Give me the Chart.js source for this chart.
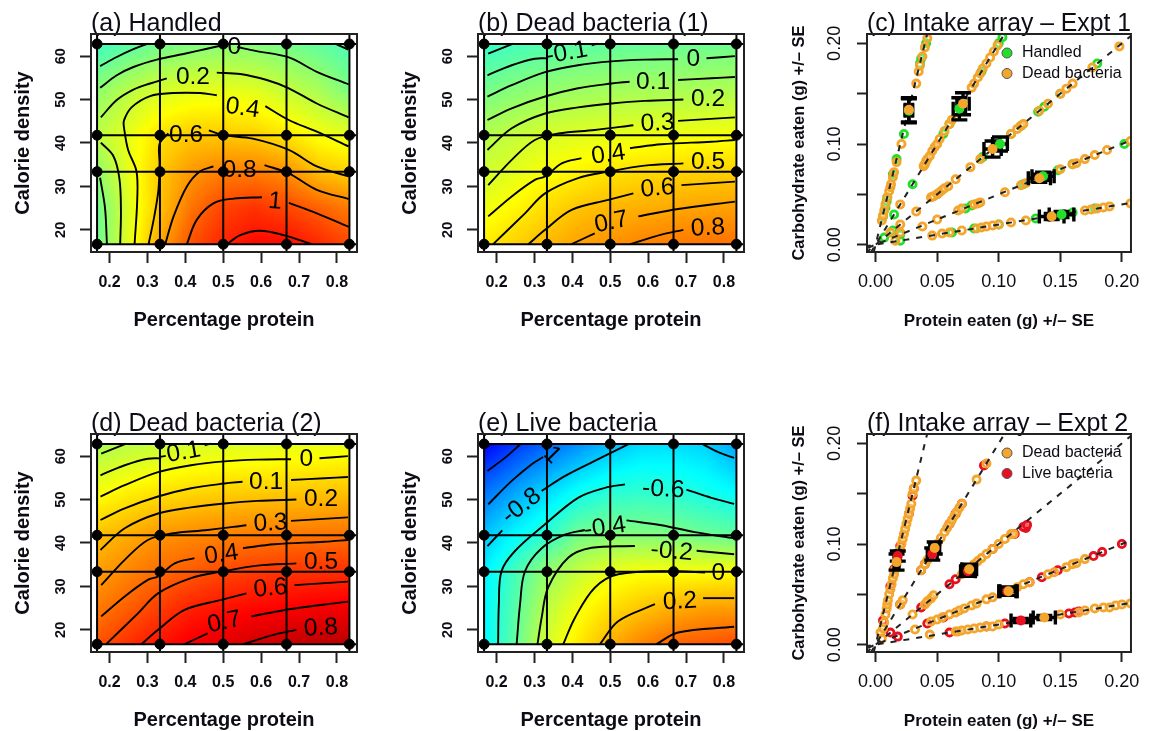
<!DOCTYPE html>
<html>
<head>
<meta charset="utf-8">
<script src="https://cdn.jsdelivr.net/npm/chart.js@4/dist/chart.umd.min.js"></script>
<style>
html, body { margin: 0; background: #fff; }
canvas { position: absolute; filter: blur(0.65px); }
</style>
</head>
<body>
<canvas id="pa" width="373" height="331" style="left:0;top:0"></canvas>
<canvas id="pb" width="373" height="331" style="left:387px;top:0"></canvas>
<canvas id="pc" width="373" height="331" style="left:776px;top:0"></canvas>
<canvas id="pd" width="373" height="331" style="left:0;top:400px"></canvas>
<canvas id="pe" width="373" height="331" style="left:387px;top:400px"></canvas>
<canvas id="pf" width="373" height="331" style="left:776px;top:400px"></canvas>
<script>
// heat map grid
var gridX = [0.167, 0.25, 0.333, 0.417, 0.5, 0.583, 0.667, 0.75, 0.833];
var gridY = [16.7, 25, 33.4, 41.7, 52, 62.7];

var handledZ = [
  [-0.1, 0.32, 0.72, 1.03, 1.18, 1.28, 1.27, 1.17, 1.05],
  [-0.1, 0.29, 0.62, 0.9, 1.07, 1.13, 1.06, 0.97, 0.87],
  [0.02, 0.33, 0.6, 0.77, 0.86, 0.86, 0.8, 0.63, 0.57],
  [0.18, 0.33, 0.52, 0.6, 0.6, 0.58, 0.5, 0.385, 0.325],
  [0.02, 0.17, 0.27, 0.32, 0.33, 0.31, 0.21, 0.12, -0.04],
  [-0.27, -0.17, -0.08, -0.04, 0, -0.02, -0.07, -0.14, -0.22]
];
// panels b and d show the same surface with a different colour stretch
var deadZ = [
  [0.47, 0.57, 0.65, 0.72, 0.77, 0.82, 0.85, 0.87, 0.88],
  [0.36, 0.44, 0.53, 0.61, 0.65, 0.68, 0.7, 0.72, 0.73],
  [0.26, 0.33, 0.4, 0.45, 0.5, 0.53, 0.55, 0.56, 0.57],
  [0.17, 0.23, 0.29, 0.32, 0.34, 0.36, 0.37, 0.38, 0.39],
  [-0.03, 0.03, 0.07, 0.1, 0.12, 0.13, 0.14, 0.15, 0.16],
  [-0.24, -0.19, -0.15, -0.12, -0.1, -0.09, -0.07, -0.06, -0.05]
];
var liveZ = [
  [-0.7, -0.41, -0.1, 0.07, 0.23, 0.35, 0.44, 0.47, 0.5],
  [-0.7, -0.44, -0.17, -0.01, 0.1, 0.17, 0.23, 0.27, 0.28],
  [-0.72, -0.49, -0.27, -0.14, -0.04, 0, 0, 0, 0.02],
  [-0.84, -0.68, -0.55, -0.36, -0.32, -0.32, -0.33, -0.38, -0.41],
  [-1.07, -0.93, -0.79, -0.66, -0.58, -0.56, -0.58, -0.63, -0.69],
  [-1.38, -1.22, -1.1, -0.98, -0.86, -0.78, -0.77, -0.8, -0.93]
];

// contour lines, broken where a label sits
var handledContours = [
  [[0.175, 57.7], [0.219, 59.8], [0.263, 61.6], [0.302, 62.9]],
  [[0.175, 52.7], [0.219, 55.6], [0.263, 57.5], [0.325, 59.2], [0.395, 60.5], [0.457, 61.7], [0.498, 62.5]],
  [[0.537, 62.1], [0.585, 61.2], [0.673, 59.7], [0.747, 56.4], [0.831, 53.5]],
  [[0.795, 62.9], [0.83, 61.5]],
  [[0.177, 45.9], [0.219, 49.9], [0.263, 52.3], [0.307, 53.7], [0.351, 54.9]],
  [[0.483, 56.2], [0.545, 55.9], [0.615, 54.5], [0.673, 52.6], [0.747, 49.1], [0.831, 45.9]],
  [[0.266, 16.7], [0.273, 26.9], [0.271, 33.5], [0.249, 38.4], [0.238, 43.6], [0.238, 45.2], [0.258, 48.2], [0.307, 50.8], [0.368, 51.5], [0.439, 51.5], [0.483, 51]],
  [[0.611, 48.5], [0.673, 45.3], [0.747, 42.6], [0.831, 39.2]],
  [[0.193, 16.7], [0.188, 25], [0.175, 32]],
  [[0.228, 16.7], [0.23, 24.4], [0.226, 31.8], [0.21, 37], [0.177, 40.1]],
  [[0.303, 16.7], [0.318, 23.1], [0.329, 29.2], [0.332, 35.2], [0.332, 39.8], [0.355, 42.2]],
  [[0.462, 42.9], [0.5, 41.8], [0.578, 41], [0.673, 38.4], [0.747, 34.6], [0.831, 32.3]],
  [[0.347, 16.7], [0.369, 23.1], [0.404, 30], [0.439, 33.5], [0.474, 34.6]],
  [[0.609, 34.9], [0.673, 33], [0.747, 29.2], [0.831, 27.1]],
  [[0.404, 16.7], [0.43, 22.3], [0.474, 26.1], [0.527, 27.2], [0.602, 27.5]],
  [[0.673, 26.2], [0.747, 23.8], [0.831, 20.7]],
  [[0.51, 16.7], [0.545, 18.8], [0.597, 19.8], [0.659, 18.8], [0.734, 16.7]]
];
var deadContours = [
  [[0.178, 60.6], [0.244, 62.9]],
  [[0.176, 55.6], [0.24, 57.9], [0.301, 59.4], [0.336, 59.5]],
  [[0.451, 62.5], [0.468, 62.9]],
  [[0.176, 50.7], [0.24, 53.3], [0.328, 56.3], [0.415, 57.9], [0.503, 58.8], [0.591, 59.2], [0.679, 59.3]],
  [[0.754, 59.5], [0.829, 60]],
  [[0.176, 45.3], [0.24, 48], [0.328, 50.7], [0.415, 52.6], [0.503, 53.7], [0.551, 54.1]],
  [[0.679, 54.5], [0.767, 54.9], [0.829, 55.2]],
  [[0.176, 38.4], [0.24, 43.4], [0.328, 46.8], [0.415, 48.2], [0.503, 49.1], [0.591, 49.7], [0.693, 50]],
  [[0.178, 30.3], [0.24, 36.1], [0.301, 40.7], [0.363, 42.2], [0.459, 43], [0.561, 44.1]],
  [[0.679, 45.1], [0.829, 45.9]],
  [[0.178, 23.1], [0.24, 27.7], [0.301, 31.5], [0.328, 32.3], [0.372, 35.3], [0.424, 36.5]],
  [[0.552, 38.8], [0.635, 39.7], [0.767, 40.3], [0.829, 40.7]],
  [[0.191, 16.7], [0.275, 23.8], [0.328, 28.4], [0.415, 31.9], [0.495, 33.4], [0.591, 34.8], [0.693, 35.3]],
  [[0.284, 16.7], [0.328, 20], [0.398, 24.6], [0.495, 26.9], [0.561, 28.4]],
  [[0.688, 30.3], [0.829, 31.1]],
  [[0.398, 16.7], [0.459, 19.2]],
  [[0.574, 23.1], [0.679, 24.8], [0.829, 26.5]],
  [[0.552, 16.7], [0.635, 18.9], [0.693, 20]]
];
var liveContours = [
  [[0.176, 56.6], [0.222, 59.6], [0.262, 62.7]],
  [[0.178, 48.9], [0.24, 54.3], [0.292, 58.1], [0.323, 59.8]],
  [[0.176, 39.3], [0.215, 42.9]],
  [[0.319, 52], [0.38, 55.4], [0.459, 58.9], [0.547, 62.7]],
  [[0.745, 62.7], [0.785, 60.9], [0.827, 59.6]],
  [[0.204, 16.7], [0.206, 25.8], [0.213, 33.5], [0.248, 38.1], [0.328, 44.3], [0.415, 50.4], [0.486, 52.7], [0.539, 53.5]],
  [[0.701, 52.3], [0.767, 50.4], [0.827, 49]],
  [[0.253, 16.7], [0.262, 25.9], [0.275, 33.5], [0.319, 38.8], [0.38, 41.9], [0.433, 43]],
  [[0.543, 45.2], [0.635, 44.1], [0.723, 42.5], [0.827, 41.1]],
  [[0.308, 16.7], [0.319, 22.8], [0.336, 29.7], [0.389, 36.6], [0.451, 38.9], [0.565, 39.3]],
  [[0.728, 38.2], [0.827, 37.4]],
  [[0.376, 16.7], [0.407, 22.8], [0.459, 29.7], [0.521, 32.8], [0.671, 33.5], [0.75, 33.2]],
  [[0.473, 16.7], [0.521, 22], [0.618, 25.9]],
  [[0.745, 27.3], [0.827, 27.3]],
  [[0.622, 16.7], [0.679, 19.4], [0.827, 20.7]]
];

// [text, x, y, rotation in degrees]
var handledLabels = [["0", 0.529, 62.1, 0], ["0.2", 0.42, 55.1, 0], ["0.4", 0.551, 48, 8], ["0.6", 0.402, 41.8, 0],
  ["0.8", 0.543, 33.8, 0], ["1", 0.637, 26.5, 5]];
var deadLabels = [["-0.1", 0.385, 60.7, -10], ["0", 0.719, 59.3, 0], ["0.1", 0.613, 54, 0], ["0.2", 0.758, 50, 0],
  ["0.3", 0.625, 44.5, -3], ["0.4", 0.495, 37.3, -8], ["0.5", 0.758, 35.6, 0], ["0.6", 0.625, 29.5, -5],
  ["0.7", 0.503, 21.7, -12], ["0.8", 0.758, 20.4, -3]];
var liveLabels = [["-1", 0.339, 60.9, 45], ["-0.8", 0.266, 48.5, -38], ["-0.6", 0.64, 52.3, 3], ["-0.4", 0.486, 43.5, -8],
  ["-0.2", 0.662, 38, 5], ["0", 0.785, 33, 0], ["0.2", 0.684, 26.5, -3]];

// the diet design: black dots and the lines through them
var designX = [0.167, 0.333, 0.5, 0.667, 0.833];
var designY = [16.7, 33.4, 41.8, 62.8];

var percentTicks = [0.2, 0.3, 0.4, 0.5, 0.6, 0.7, 0.8];
var calorieTicks = [20, 30, 40, 50, 60];
var intakeTicks = [0, 0.05, 0.1, 0.15, 0.2];

// intake rails, protein : carbohydrate 1:5, 1:2, 1:1, 2:1, 5:1
var rails = [
  [[-0.0015, -0.0075], [0.05, 0.25]],
  [[-0.004, -0.008], [0.125, 0.25]],
  [[-0.008, -0.008], [0.25, 0.25]],
  [[-0.016, -0.008], [0.25, 0.125]],
  [[-0.04, -0.008], [0.25, 0.05]]
];

// individual animals, expt 1
var handledRings1 = [
  [0.006, 0.028], [0.008, 0.037], [0.009, 0.043], [0.0095, 0.047], [0.014, 0.07], [0.017, 0.085], [0.023, 0.11], [0.036, 0.18], [0.037, 0.185], [0.041, 0.2],
  [0.015, 0.03], [0.03, 0.06], [0.055, 0.11], [0.06, 0.12], [0.066, 0.132], [0.086, 0.172], [0.1, 0.2], [0.103, 0.206],
  [0.007, 0.007], [0.014, 0.014], [0.05, 0.05], [0.087, 0.087], [0.11, 0.11], [0.118, 0.118], [0.132, 0.132], [0.137, 0.137], [0.15, 0.15], [0.18, 0.18],
  [0.02, 0.01], [0.073, 0.036], [0.078, 0.039], [0.12, 0.06], [0.148, 0.074], [0.16, 0.08], [0.202, 0.1],
  [0.02, 0.004], [0.062, 0.012], [0.08, 0.016], [0.1, 0.02], [0.13, 0.026], [0.16, 0.032], [0.178, 0.036]
];
var deadRings1 = [
  [0.005, 0.024], [0.006, 0.029], [0.007, 0.034], [0.008, 0.04], [0.0095, 0.047], [0.011, 0.053], [0.012, 0.057], [0.0125, 0.06], [0.014, 0.067], [0.015, 0.072], [0.017, 0.082], [0.021, 0.1], [0.033, 0.16], [0.035, 0.172], [0.036, 0.178], [0.038, 0.187], [0.04, 0.196], [0.042, 0.205],
  [0.02, 0.04], [0.039, 0.078], [0.04, 0.08], [0.041, 0.083], [0.042, 0.085], [0.044, 0.088], [0.046, 0.093], [0.048, 0.097], [0.05, 0.1], [0.052, 0.105], [0.056, 0.113], [0.06, 0.12], [0.062, 0.124], [0.078, 0.156], [0.08, 0.16], [0.083, 0.166], [0.085, 0.17], [0.087, 0.175], [0.09, 0.18], [0.093, 0.186], [0.096, 0.192], [0.099, 0.198],
  [0.012, 0.012], [0.02, 0.02], [0.033, 0.033], [0.045, 0.047], [0.047, 0.048], [0.05, 0.05], [0.052, 0.052], [0.054, 0.054], [0.056, 0.056], [0.059, 0.058], [0.065, 0.065], [0.077, 0.077], [0.085, 0.085], [0.11, 0.11], [0.115, 0.115], [0.118, 0.118], [0.12, 0.12], [0.133, 0.133], [0.14, 0.14], [0.15, 0.15], [0.155, 0.155], [0.16, 0.16], [0.176, 0.176], [0.198, 0.197],
  [0.02, 0.012], [0.038, 0.018], [0.05, 0.025], [0.067, 0.034], [0.07, 0.036], [0.08, 0.04], [0.083, 0.041], [0.085, 0.042], [0.105, 0.052], [0.118, 0.059], [0.122, 0.061], [0.15, 0.075], [0.16, 0.08], [0.163, 0.081], [0.17, 0.085], [0.178, 0.089], [0.188, 0.094], [0.207, 0.103],
  [0.016, 0.004], [0.046, 0.009], [0.054, 0.011], [0.06, 0.012], [0.07, 0.014], [0.082, 0.016], [0.086, 0.017], [0.09, 0.018], [0.095, 0.019], [0.1, 0.02], [0.11, 0.022], [0.122, 0.024], [0.17, 0.034], [0.175, 0.035], [0.18, 0.036], [0.185, 0.037], [0.19, 0.038], [0.207, 0.041]
];
// individual animals, expt 2
var deadRings2 = [
  [0.004, 0.012], [0.006, 0.016], [0.007, 0.022], [0.008, 0.03], [0.009, 0.036], [0.0095, 0.04], [0.01, 0.044], [0.011, 0.05], [0.012, 0.055], [0.013, 0.06], [0.014, 0.066], [0.015, 0.07], [0.016, 0.075], [0.017, 0.08], [0.02, 0.095], [0.021, 0.1], [0.022, 0.105], [0.023, 0.11], [0.024, 0.115], [0.025, 0.12], [0.026, 0.125], [0.027, 0.13], [0.028, 0.135], [0.029, 0.14], [0.03, 0.15], [0.031, 0.155], [0.033, 0.163],
  [0.02, 0.04], [0.022, 0.044], [0.037, 0.074], [0.04, 0.08], [0.042, 0.084], [0.05, 0.1], [0.053, 0.106], [0.056, 0.112], [0.058, 0.116], [0.06, 0.12], [0.062, 0.124], [0.064, 0.128], [0.066, 0.132], [0.068, 0.136], [0.07, 0.14], [0.082, 0.164], [0.09, 0.18],
  [0.005, 0.006], [0.03, 0.03], [0.04, 0.04], [0.042, 0.043], [0.045, 0.046], [0.047, 0.049], [0.07, 0.07], [0.072, 0.072], [0.08, 0.08], [0.083, 0.083], [0.086, 0.086], [0.09, 0.09], [0.095, 0.095], [0.1, 0.1], [0.105, 0.105], [0.11, 0.11], [0.112, 0.11],
  [0.032, 0.015], [0.045, 0.023], [0.05, 0.025], [0.054, 0.027], [0.06, 0.03], [0.065, 0.032], [0.068, 0.034], [0.072, 0.036], [0.078, 0.039], [0.082, 0.041], [0.09, 0.045], [0.095, 0.047], [0.105, 0.052], [0.115, 0.057], [0.12, 0.06], [0.125, 0.062], [0.14, 0.07], [0.145, 0.072], [0.155, 0.077], [0.16, 0.08], [0.163, 0.081], [0.17, 0.085],
  [0.044, 0.01], [0.065, 0.013], [0.067, 0.013], [0.07, 0.014], [0.075, 0.015], [0.08, 0.016], [0.085, 0.017], [0.09, 0.018], [0.095, 0.018], [0.1, 0.02], [0.15, 0.03], [0.165, 0.032], [0.17, 0.034], [0.178, 0.036], [0.185, 0.037], [0.19, 0.037], [0.195, 0.039], [0.2, 0.04], [0.207, 0.041]
];
var liveRings2 = [
  [0.006, 0.024], [0.012, 0.058], [0.015, 0.075], [0.02, 0.098], [0.027, 0.13], [0.03, 0.148], [0.031, 0.155],
  [0.02, 0.04], [0.037, 0.074], [0.04, 0.08], [0.045, 0.09], [0.06, 0.12], [0.065, 0.13], [0.07, 0.14], [0.088, 0.178],
  [0.012, 0.012], [0.037, 0.037], [0.06, 0.06], [0.065, 0.065], [0.095, 0.095], [0.113, 0.11], [0.122, 0.116], [0.12, 0.117], [0.123, 0.119],
  [0.018, 0.008], [0.042, 0.021], [0.055, 0.027], [0.125, 0.062], [0.135, 0.067], [0.148, 0.074], [0.177, 0.088], [0.184, 0.092], [0.2, 0.1],
  [0.06, 0.012], [0.09, 0.018], [0.105, 0.021], [0.157, 0.031], [0.162, 0.032], [0.165, 0.033]
];

// means: x, y, se x, se y
var handledMeans1 = [[0.027, 0.133, 0.003, 0.012], [0.068, 0.135, 0.005, 0.011], [0.101, 0.1, 0.006, 0.007], [0.136, 0.068, 0.009, 0.004], [0.151, 0.03, 0.01, 0.003]];
var deadMeans1 = [[0.027, 0.134, 0.003, 0.012], [0.071, 0.14, 0.005, 0.011], [0.095, 0.095, 0.007, 0.008], [0.133, 0.066, 0.009, 0.004], [0.143, 0.028, 0.01, 0.003]];
var liveMeans2 = [[0.018, 0.088, 0.002, 0.005], [0.046, 0.09, 0.004, 0.006], [0.075, 0.073, 0.006, 0.005], [0.107, 0.053, 0.007, 0.004], [0.118, 0.024, 0.008, 0.002]];
var deadMeans2 = [[0.017, 0.082, 0.002, 0.008], [0.048, 0.096, 0.004, 0.006], [0.076, 0.075, 0.006, 0.005], [0.108, 0.053, 0.007, 0.004], [0.137, 0.027, 0.009, 0.002]];

var FONT = '"Liberation Sans", Arial, sans-serif';
var INK = '#0c0c14';
var jet = [[0, 0, 127], [0, 0, 255], [0, 127, 255], [0, 255, 255], [127, 255, 127], [255, 255, 0], [255, 127, 0], [255, 0, 0], [127, 0, 0]];

function jetColor(t) {
  var p = Math.max(0, Math.min(0.9999, t)) * (jet.length - 1);
  var i = Math.floor(p), f = p - i;
  var a = jet[i], b = jet[i + 1];
  return 'rgb(' + Math.round(a[0] + (b[0] - a[0]) * f) + ',' + Math.round(a[1] + (b[1] - a[1]) * f) + ',' + Math.round(a[2] + (b[2] - a[2]) * f) + ')';
}

function findCell(list, v) {
  for (var i = 0; i < list.length - 2; i++) {
    if (v < list[i + 1]) return i;
  }
  return list.length - 2;
}

// colours the surface between the grid values
var heatPlugin = {
  id: 'heat',
  beforeDatasetsDraw: function (chart, args, opts) {
    if (!opts.z) return;
    var ctx = chart.ctx, sx = chart.scales.x, sy = chart.scales.y;
    var x0 = Math.round(sx.getPixelForValue(gridX[0])), x1 = Math.round(sx.getPixelForValue(gridX[gridX.length - 1]));
    var y0 = Math.round(sy.getPixelForValue(gridY[gridY.length - 1])), y1 = Math.round(sy.getPixelForValue(gridY[0]));
    for (var px = x0; px < x1; px += 2) {
      var vx = sx.getValueForPixel(px + 1);
      var i = findCell(gridX, vx);
      var fx = (vx - gridX[i]) / (gridX[i + 1] - gridX[i]);
      for (var py = y0; py < y1; py += 2) {
        var vy = sy.getValueForPixel(py + 1);
        var j = findCell(gridY, vy);
        var fy = (vy - gridY[j]) / (gridY[j + 1] - gridY[j]);
        var z = (opts.z[j][i] * (1 - fx) + opts.z[j][i + 1] * fx) * (1 - fy) + (opts.z[j + 1][i] * (1 - fx) + opts.z[j + 1][i + 1] * fx) * fy;
        ctx.fillStyle = jetColor(opts.t0 + opts.slope * z);
        ctx.fillRect(px, py, 2, 2);
      }
    }
  }
};

// contour labels, error bars, legend and the box round the plot
var extrasPlugin = {
  id: 'extras',
  beforeDatasetDraw: function (chart, args, opts) {
    if (!opts.bars || chart.data.datasets[args.index].label !== opts.firstMean) return;
    var ctx = chart.ctx, sx = chart.scales.x, sy = chart.scales.y;
    ctx.save();
    ctx.strokeStyle = '#000';
    ctx.lineWidth = 3.4;
    opts.bars.forEach(function (m) {
      var x = sx.getPixelForValue(m[0]), y = sy.getPixelForValue(m[1]);
      var xa = sx.getPixelForValue(m[0] - m[2]), xb = sx.getPixelForValue(m[0] + m[2]);
      var ya = sy.getPixelForValue(m[1] - m[3]), yb = sy.getPixelForValue(m[1] + m[3]);
      ctx.beginPath();
      ctx.moveTo(xa, y); ctx.lineTo(xb, y);
      ctx.moveTo(x, ya); ctx.lineTo(x, yb);
      ctx.moveTo(xa, y - 7); ctx.lineTo(xa, y + 7);
      ctx.moveTo(xb, y - 7); ctx.lineTo(xb, y + 7);
      ctx.moveTo(x - 8, ya); ctx.lineTo(x + 8, ya);
      ctx.moveTo(x - 8, yb); ctx.lineTo(x + 8, yb);
      ctx.stroke();
    });
    ctx.restore();
  },
  afterDatasetsDraw: function (chart, args, opts) {
    var ctx = chart.ctx, a = chart.chartArea;
    ctx.save();
    if (opts.labels) {
      ctx.font = '24.5px ' + FONT;
      ctx.fillStyle = '#000';
      ctx.textAlign = 'center';
      ctx.textBaseline = 'middle';
      opts.labels.forEach(function (l) {
        ctx.save();
        ctx.translate(chart.scales.x.getPixelForValue(l[1]), chart.scales.y.getPixelForValue(l[2]));
        ctx.rotate(l[3] * Math.PI / 180);
        ctx.fillText(l[0], 0, 0);
        ctx.restore();
      });
    }
    if (opts.legend) {
      ctx.font = '16px ' + FONT;
      ctx.textAlign = 'left';
      ctx.textBaseline = 'middle';
      opts.legend.forEach(function (e, n) {
        var y = a.top + 19 + n * 20.5;
        ctx.beginPath();
        ctx.arc(a.left + 140, y, 5, 0, Math.PI * 2);
        ctx.fillStyle = e[1];
        ctx.fill();
        ctx.lineWidth = 1;
        ctx.strokeStyle = '#555';
        ctx.stroke();
        ctx.fillStyle = INK;
        ctx.fillText(e[0], a.left + 155, y);
      });
    }
    ctx.lineWidth = 2;
    ctx.strokeStyle = '#222';
    ctx.strokeRect(a.left, a.top, a.right - a.left, a.bottom - a.top);
    ctx.restore();
  }
};

function toPoints(list) {
  return list.map(function (p) { return { x: p[0], y: p[1] }; });
}

function panelOptions(spec) {
  return {
    responsive: false,
    animation: false,
    events: [],
    layout: { padding: { top: 0, right: 16, left: 0, bottom: 0 } },
    plugins: {
      legend: { display: false },
      tooltip: { enabled: false },
      title: {
        display: true, text: spec.title, align: 'start', fullSize: false, color: INK,
        font: { family: FONT, size: 25, weight: 'normal', lineHeight: 1 },
        padding: { top: 12, bottom: -3 }
      },
      heat: spec.heat || {},
      extras: spec.extras || {}
    },
    scales: {
      x: {
        type: 'linear', min: spec.xMin, max: spec.xMax,
        border: { display: false },
        grid: { drawOnChartArea: false, tickLength: spec.tickLen, tickColor: '#222', tickWidth: 2 },
        afterBuildTicks: function (s) { s.ticks = spec.xTicks.map(function (v) { return { value: v }; }); },
        afterFit: function (s) { s.height = 79; },
        ticks: {
          autoSkip: false, maxRotation: 0, padding: spec.xPad, color: INK,
          font: spec.tickFontX,
          callback: spec.xFormat
        },
        title: { display: true, text: spec.xTitle, color: INK, font: spec.axisFont, padding: { top: 0, bottom: -1 } }
      },
      y: {
        type: 'linear', min: spec.yMin, max: spec.yMax,
        border: { display: false },
        grid: { drawOnChartArea: false, tickLength: spec.tickLen, tickColor: '#222', tickWidth: 2 },
        afterBuildTicks: function (s) { s.ticks = spec.yTicks.map(function (v) { return { value: v }; }); },
        afterFit: function (s) { s.width = 91; },
        ticks: {
          autoSkip: false, minRotation: 90, maxRotation: 90, crossAlign: 'center', padding: spec.yPad, color: INK,
          font: spec.tickFontY,
          callback: spec.yFormat
        },
        title: { display: true, text: spec.yTitle, color: INK, font: spec.axisFontY || spec.axisFont, padding: { top: spec.yTitleTop, bottom: 0 } }
      }
    }
  };
}

function heatChart(id, title, z, t0, slope, contours, labels) {
  var sets = [];
  contours.forEach(function (c, n) {
    sets.push({ label: 'contour ' + n, data: toPoints(c), showLine: true, tension: 0.35, borderColor: '#000', borderWidth: 1.9, pointRadius: 0, order: 3 });
  });
  designX.forEach(function (v) {
    sets.push({ label: 'design x', data: [{ x: v, y: 14 }, { x: v, y: 66 }], showLine: true, borderColor: '#000', borderWidth: 2, pointRadius: 0, order: 2 });
  });
  designY.forEach(function (v) {
    sets.push({ label: 'design y', data: [{ x: 0.14, y: v }, { x: 0.86, y: v }], showLine: true, borderColor: '#000', borderWidth: 2, pointRadius: 0, order: 2 });
  });
  var dots = [];
  designY.forEach(function (y) { designX.forEach(function (x) { dots.push({ x: x, y: y }); }); });
  sets.push({ label: 'design', data: dots, backgroundColor: '#000', borderColor: '#000', pointRadius: 5, order: 1 });
  new Chart(document.getElementById(id), {
    type: 'scatter',
    data: { datasets: sets },
    plugins: [heatPlugin, extrasPlugin],
    options: panelOptions({
      title: title,
      xMin: 0.151, xMax: 0.853, yMin: 14.9, yMax: 65.1,
      xTicks: percentTicks, yTicks: calorieTicks,
      xFormat: function (v) { return v.toFixed(1); },
      yFormat: function (v) { return String(v); },
      tickLen: 11, xPad: 10, yPad: 11, yTitleTop: 11,
      tickFontX: { family: FONT, size: 16, weight: 'bold' },
      tickFontY: { family: FONT, size: 14.5, weight: 'bold' },
      xTitle: 'Percentage protein', yTitle: 'Calorie density',
      axisFont: { family: FONT, size: 20, weight: 'bold' },
      heat: { z: z, t0: t0, slope: slope },
      extras: { labels: labels }
    })
  });
}

function intakeChart(id, title, ringsA, ringsB, meansA, meansB, colA, colB, nameA, nameB, legendRows) {
  var sets = [];
  sets.push({ label: nameA + ' rings', data: toPoints(ringsA), borderColor: colA, backgroundColor: 'rgba(255,250,235,0.35)', borderWidth: 2.8, pointRadius: 3.6, order: 6 });
  sets.push({ label: nameB + ' rings', data: toPoints(ringsB), borderColor: colB, backgroundColor: 'rgba(255,250,235,0.35)', borderWidth: 2.8, pointRadius: 3.6, order: 5 });
  rails.forEach(function (r) {
    sets.push({ label: 'rail', data: toPoints(r), showLine: true, borderColor: '#222', borderWidth: 2, borderDash: [6, 7], pointRadius: 0, order: 4 });
  });
  sets.push({ label: nameA, data: toPoints(meansA), backgroundColor: colA, borderColor: colA, borderWidth: 0, pointRadius: 5, order: 2 });
  sets.push({ label: nameB, data: toPoints(meansB), backgroundColor: colB, borderColor: colB, borderWidth: 0, pointRadius: 5, order: 1 });
  new Chart(document.getElementById(id), {
    type: 'scatter',
    data: { datasets: sets },
    plugins: [extrasPlugin],
    options: panelOptions({
      title: title,
      xMin: -0.007, xMax: 0.2074, yMin: -0.0073, yMax: 0.2093,
      xTicks: intakeTicks, yTicks: intakeTicks,
      xFormat: function (v) { return v.toFixed(2); },
      yFormat: function (v) { return (v === 0 || v === 0.1 || v === 0.2) ? v.toFixed(2) : ''; },
      tickLen: 10, xPad: 9, yPad: 4, yTitleTop: 14,
      tickFontX: { family: FONT, size: 18 },
      tickFontY: { family: FONT, size: 18 },
      xTitle: 'Protein eaten (g) +/\u2013 SE', yTitle: 'Carbohydrate eaten (g) +/\u2013 SE',
      axisFont: { family: FONT, size: 17, weight: 'bold' },
      axisFontY: { family: FONT, size: 16.5, weight: 'bold' },
      extras: {
        firstMean: nameA,
        bars: meansA.concat(meansB),
        legend: legendRows
      }
    })
  });
}

var GREEN = '#22e02a', ORANGE = '#f4a52c', RED = '#e6101e';

heatChart('pa', '(a) Handled', handledZ, 0.51, 0.28, handledContours, handledLabels);
heatChart('pb', '(b) Dead bacteria (1)', deadZ, 0.5, 0.3, deadContours, deadLabels);
intakeChart('pc', '(c) Intake array \u2013 Expt 1', handledRings1, deadRings1, handledMeans1, deadMeans1, GREEN, ORANGE, 'Handled', 'Dead bacteria',
  [['Handled', GREEN], ['Dead bacteria', ORANGE]]);
heatChart('pd', '(d) Dead bacteria (2)', deadZ, 0.625, 0.36, deadContours, deadLabels);
heatChart('pe', '(e) Live bacteria', liveZ, 0.62, 0.36, liveContours, liveLabels);
intakeChart('pf', '(f) Intake array \u2013 Expt 2', liveRings2, deadRings2, liveMeans2, deadMeans2, RED, ORANGE, 'Live bacteria', 'Dead bacteria',
  [['Dead bacteria', ORANGE], ['Live bacteria', RED]]);
</script>
</body>
</html>
